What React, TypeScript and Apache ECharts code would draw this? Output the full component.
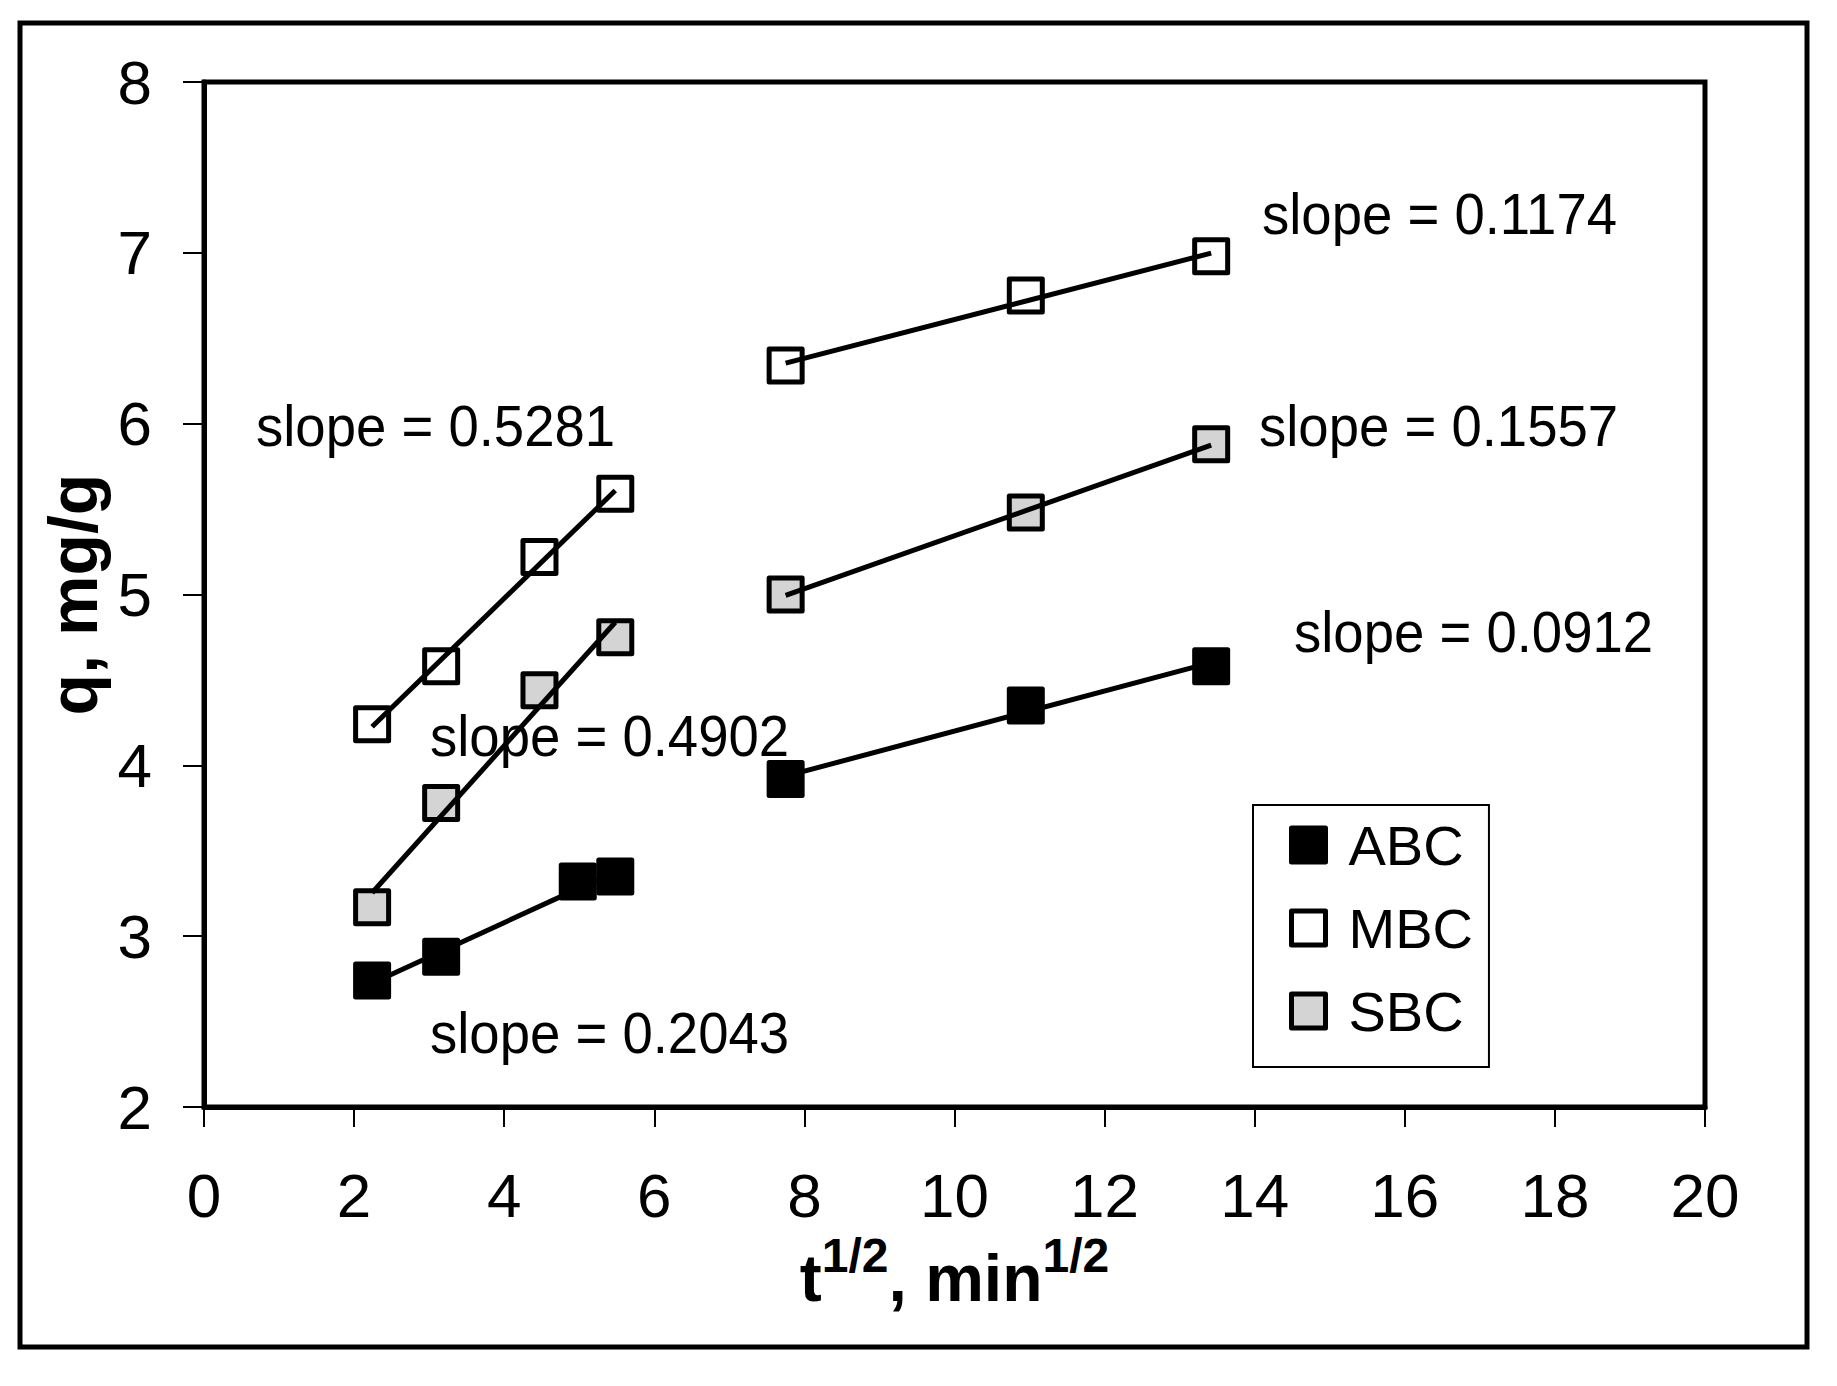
import React, { useEffect, useRef } from "react";
import * as echarts from "echarts";

// square-root of time (min^1/2) for each sample
const tABC = [2.24, 3.16, 4.98, 5.48, 7.75, 10.95, 13.42];
const tMBC = [2.24, 3.16, 4.47, 5.48, 7.75, 10.95, 13.42];
const tSBC = [2.24, 3.16, 4.47, 5.48, 7.75, 10.95, 13.42];

// adsorbed amount q (mg/g)
const qABC = [2.74, 2.88, 3.32, 3.35, 3.92, 4.35, 4.58];
const qMBC = [4.24, 4.58, 5.22, 5.59, 6.34, 6.75, 6.98];
const qSBC = [3.17, 3.78, 4.44, 4.75, 5.0, 5.48, 5.88];

// index where the second linear region starts
const splitIndex = 4;

const seriesNames = ["ABC", "MBC", "SBC"];
const slopeLabels = [
  "slope = 0.5281",
  "slope = 0.1174",
  "slope = 0.1557",
  "slope = 0.0912",
  "slope = 0.4902",
  "slope = 0.2043",
];
const xTicks = [0, 2, 4, 6, 8, 10, 12, 14, 16, 18, 20];
const yTicks = [2, 3, 4, 5, 6, 7, 8];

// layout of the annotation texts (pixels: left edge, vertical middle)
const slopeLabelPos = [
  [256, 426],
  [1262, 214],
  [1259, 426],
  [1294, 632],
  [430, 736],
  [430, 1033],
];

const FONT = "'Liberation Sans', Arial, Helvetica, sans-serif";

function fitLine(xs: number[], ys: number[]): number[][] {
  const n = xs.length;
  const mx = xs.reduce((a, b) => a + b, 0) / n;
  const my = ys.reduce((a, b) => a + b, 0) / n;
  let sxy = 0;
  let sxx = 0;
  for (let i = 0; i < n; i++) {
    sxy += (xs[i] - mx) * (ys[i] - my);
    sxx += (xs[i] - mx) * (xs[i] - mx);
  }
  const b = sxy / sxx;
  const a = my - b * mx;
  const x0 = xs[0];
  const x1 = xs[n - 1];
  return [
    [x0, a + b * x0],
    [x1, a + b * x1],
  ];
}

export default function App() {
  const ref = useRef<HTMLDivElement>(null);

  useEffect(() => {
    document.body.style.margin = "0";
    if (!ref.current) return;
    const chart = echarts.init(ref.current, null, { renderer: "svg" });

    const xs = [tABC, tMBC, tSBC];
    const qs = [qABC, qMBC, qSBC];
    const fills = ["#000000", "#ffffff", "#d4d4d4"];

    const scatterSeries = seriesNames.map((name, i) => ({
      name,
      type: "scatter",
      symbol: "rect",
      symbolSize: 33,
      z: 2,
      itemStyle: {
        color: fills[i],
        borderColor: "#000",
        borderWidth: 5,
        borderJoin: "round",
        opacity: 1,
      },
      data: xs[i].map((x, j) => [x, qs[i][j]]),
    }));

    const lineSeries: any[] = [];
    seriesNames.forEach((name, i) => {
      const x = xs[i];
      const q = qs[i];
      const segs = [
        [x.slice(0, splitIndex), q.slice(0, splitIndex)],
        [x.slice(splitIndex), q.slice(splitIndex)],
      ];
      segs.forEach((s, k) => {
        lineSeries.push({
          name: name + "-fit" + k,
          type: "line",
          showSymbol: false,
          symbol: "none",
          z: 3,
          lineStyle: { color: "#000", width: 5 },
          data: fitLine(s[0] as number[], s[1] as number[]),
        });
      });
    });

    const graphics: any[] = [
      {
        type: "rect",
        z: -1,
        shape: { x: 20, y: 23, width: 1787, height: 1324 },
        style: { fill: "none", stroke: "#000", lineWidth: 5 },
      },
    ];
    slopeLabels.forEach((txt, i) => {
      graphics.push({
        type: "text",
        x: slopeLabelPos[i][0],
        y: slopeLabelPos[i][1],
        scaleX: 0.94,
        z: 10,
        style: {
          text: txt,
          fontSize: 58,
          fontFamily: FONT,
          fill: "#000",
          align: "left",
          verticalAlign: "middle",
        },
      });
    });

    chart.setOption({
      animation: false,
      backgroundColor: "#ffffff",
      grid: {
        left: 204,
        top: 82,
        right: 1837 - 1705,
        bottom: 1386 - 1107,
        show: true,
        borderColor: "#000",
        borderWidth: 5,
        backgroundColor: "transparent",
      },
      legend: {
        left: 1253,
        top: 805,
        orient: "vertical",
        data: seriesNames.map((n, i) => ({
          name: n,
          icon: "rect",
          itemStyle: { color: fills[i], borderColor: "#000", borderWidth: 5 },
        })),
        itemWidth: 34,
        itemHeight: 34,
        itemGap: 27,
        padding: [12, 16, 28, 36],
        borderColor: "#000",
        borderWidth: 2,
        backgroundColor: "#fff",
        textStyle: {
          fontSize: 56,
          fontFamily: FONT,
          color: "#000",
          padding: [0, 0, 0, 18],
        },
      },
      xAxis: {
        type: "value",
        min: xTicks[0],
        max: xTicks[xTicks.length - 1],
        interval: xTicks[1] - xTicks[0],
        splitLine: { show: false },
        axisLine: { show: true, lineStyle: { color: "#000", width: 5 } },
        axisTick: { show: true, length: 20, lineStyle: { color: "#000", width: 2 } },
        axisLabel: {
          fontSize: 62,
          fontFamily: FONT,
          color: "#000",
          margin: 57,
        },
        name: "{b|t}{s|1/2}{b|, min}{s|1/2}",
        nameLocation: "middle",
        nameGap: 124,
        nameTextStyle: {
          rich: {
            b: { fontSize: 66, fontWeight: "bold", fontFamily: FONT, color: "#000", lineHeight: 80, verticalAlign: "bottom" },
            s: { fontSize: 48, fontWeight: "bold", fontFamily: FONT, color: "#000", lineHeight: 46, verticalAlign: "top" },
          },
        },
      },
      yAxis: {
        type: "value",
        min: yTicks[0],
        max: yTicks[yTicks.length - 1],
        interval: yTicks[1] - yTicks[0],
        splitLine: { show: false },
        axisLine: { show: true, lineStyle: { color: "#000", width: 5 } },
        axisTick: { show: true, length: 21, lineStyle: { color: "#000", width: 2 } },
        axisLabel: {
          fontSize: 62,
          fontFamily: FONT,
          color: "#000",
          margin: 52,
        },
        name: "q, mg/g",
        nameLocation: "middle",
        nameGap: 86,
        nameTextStyle: {
          fontSize: 68,
          fontWeight: "bold",
          fontFamily: FONT,
          color: "#000",
        },
      },
      graphic: graphics,
      series: [...scatterSeries, ...lineSeries],
    });

    return () => {
      chart.dispose();
    };
  }, []);

  return <div ref={ref} style={{ width: 1837, height: 1386 }} />;
}
